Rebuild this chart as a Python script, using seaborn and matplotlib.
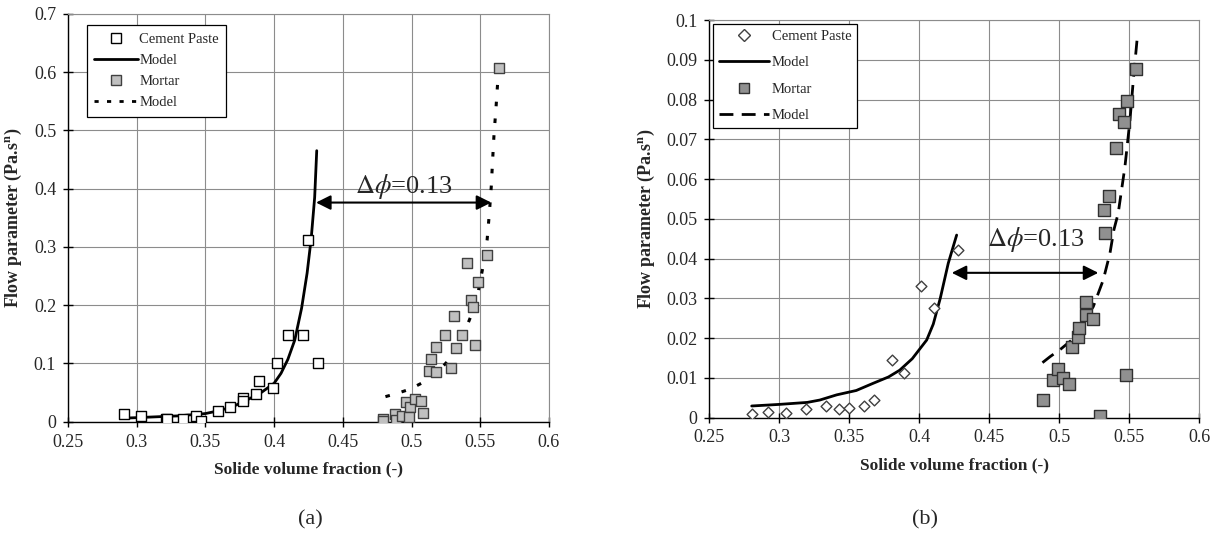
import matplotlib
matplotlib.use('Agg')
import matplotlib.pyplot as plt
import seaborn as sns
from matplotlib.ticker import FuncFormatter, MultipleLocator
from matplotlib.lines import Line2D

# ---------------- Panel (a) data ----------------
a_paste_x = [0.291, 0.303, 0.321, 0.322, 0.334, 0.343, 0.347, 0.359, 0.368, 0.377, 0.377,
             0.387, 0.389, 0.399, 0.402, 0.410, 0.421, 0.425, 0.432]
a_paste_y = [0.013, 0.010, 0.005, 0.005, 0.005, 0.009, 0.002, 0.019, 0.026, 0.041, 0.035,
             0.047, 0.070, 0.058, 0.100, 0.149, 0.149, 0.311, 0.100]
a_paste_model_x = [0.290, 0.300, 0.310, 0.320, 0.330, 0.340, 0.350, 0.360, 0.370, 0.380, 0.390,
                   0.400, 0.405, 0.410, 0.415, 0.420, 0.424, 0.427, 0.4295, 0.431]
a_paste_model_y = [0.006, 0.007, 0.008, 0.009, 0.010, 0.012, 0.014, 0.019, 0.026, 0.037, 0.049,
                   0.066, 0.083, 0.107, 0.140, 0.195, 0.255, 0.315, 0.385, 0.465]
a_mortar_x = [0.4795, 0.4795, 0.488, 0.489, 0.493, 0.496, 0.499, 0.498, 0.5025, 0.507, 0.508,
              0.513, 0.514, 0.518, 0.518, 0.524, 0.529, 0.531, 0.532, 0.537, 0.540, 0.5435,
              0.545, 0.546, 0.548, 0.555, 0.564]
a_mortar_y = [0.004, 0.001, 0.014, 0.003, 0.010, 0.033, 0.025, 0.008, 0.039, 0.035, 0.015,
              0.087, 0.108, 0.085, 0.128, 0.149, 0.093, 0.181, 0.126, 0.149, 0.273, 0.209,
              0.196, 0.132, 0.239, 0.286, 0.607]
a_mortar_model_x = [0.481, 0.490, 0.499, 0.508, 0.515, 0.522, 0.530, 0.537, 0.543, 0.5485, 0.552,
                    0.555, 0.5566, 0.558, 0.559, 0.560, 0.5615, 0.5627, 0.5635]
a_mortar_model_y = [0.043, 0.049, 0.056, 0.067, 0.078, 0.093, 0.113, 0.145, 0.180, 0.223, 0.266,
                    0.312, 0.357, 0.403, 0.449, 0.492, 0.540, 0.583, 0.600]

# ---------------- Panel (b) data ----------------
b_paste_x = [0.2803, 0.2917, 0.3046, 0.3189, 0.3334, 0.3429, 0.350, 0.3605, 0.368, 0.3803,
             0.3893, 0.4013, 0.4105, 0.4279]
b_paste_y = [0.0009, 0.0015, 0.0011, 0.0021, 0.0030, 0.0021, 0.0023, 0.0029, 0.0044, 0.0145,
             0.0111, 0.0331, 0.0275, 0.0421]
b_paste_model_x = [0.2803, 0.300, 0.320, 0.329, 0.341, 0.355, 0.367, 0.378, 0.386, 0.395,
                   0.4053, 0.410, 0.415, 0.4207, 0.4267]
b_paste_model_y = [0.0029, 0.0033, 0.0038, 0.0044, 0.0057, 0.0068, 0.0086, 0.0102, 0.0119, 0.0148,
                   0.0195, 0.0235, 0.0300, 0.0388, 0.0459]
b_mortar_x = [0.4881, 0.4957, 0.4993, 0.5029, 0.5071, 0.5089, 0.5131, 0.5143, 0.5189, 0.5191,
              0.5238, 0.529, 0.532, 0.5326, 0.5357, 0.5405, 0.5429, 0.5462, 0.5474, 0.5481, 0.5548]
b_mortar_y = [0.0045, 0.0094, 0.0121, 0.0099, 0.0084, 0.0178, 0.0202, 0.0224, 0.0258, 0.0291,
              0.0248, 0.0004, 0.0522, 0.0463, 0.0558, 0.0677, 0.0764, 0.0743, 0.0107, 0.0797, 0.0876]
b_mortar_model_x = [0.488, 0.4934, 0.5010, 0.5089, 0.517, 0.5243, 0.5314, 0.5362, 0.539, 0.5421,
                    0.5469, 0.5505, 0.5529, 0.5555]
b_mortar_model_y = [0.0138, 0.0153, 0.0172, 0.0195, 0.0237, 0.0279, 0.0346, 0.0413, 0.0472, 0.0514,
                    0.0631, 0.0748, 0.0849, 0.0948]

xlabel = 'Solide volume fraction (-)'
ylabel = r'Flow parameter (Pa.s$^{\mathbf{n}}$)'
delta_label = r'$\Delta\phi$=0.13'

sns.set_theme(style='white')
plt.rcParams['font.family'] = ['Liberation Serif', 'DejaVu Serif']
plt.rcParams['mathtext.fontset'] = 'stix'

fig = plt.figure(figsize=(12.21, 5.53), dpi=100)
axA = fig.add_axes([0.0557, 0.2374, 0.3939, 0.7378])
axB = fig.add_axes([0.5809, 0.245, 0.4013, 0.7188])

GRID = '#8c8c8c'
fmt = FuncFormatter(lambda v, p: '%g' % round(v, 4))


def style_axes(ax, ymax, ystep):
    ax.set_xlim(0.25, 0.6)
    ax.set_ylim(0, ymax)
    ax.xaxis.set_major_locator(MultipleLocator(0.05))
    ax.yaxis.set_major_locator(MultipleLocator(ystep))
    ax.xaxis.set_major_formatter(fmt)
    ax.yaxis.set_major_formatter(fmt)
    ax.grid(True, color=GRID, lw=0.8)
    ax.set_axisbelow(True)
    for s in ['top', 'right']:
        ax.spines[s].set_color(GRID)
        ax.spines[s].set_linewidth(0.8)
    for s in ['left', 'bottom']:
        ax.spines[s].set_color('black')
        ax.spines[s].set_linewidth(1.0)
    ax.tick_params(axis='both', direction='inout', length=7, width=1, color='black',
                   labelsize=13, pad=5, left=True, bottom=True)
    ax.set_xlabel(xlabel, fontsize=12.5, fontweight='bold', labelpad=8)
    ax.set_ylabel(ylabel, fontsize=13, fontweight='bold', labelpad=7)


# ---------- Panel (a) ----------
sns.scatterplot(x=a_paste_x, y=a_paste_y, ax=axA, marker='s', s=60, color='white',
                edgecolor='black', linewidth=1, zorder=4, legend=False)
sns.lineplot(x=a_paste_model_x, y=a_paste_model_y, ax=axA, color='black', lw=2,
             sort=False, estimator=None, zorder=3, legend=False)
sns.scatterplot(x=a_mortar_x, y=a_mortar_y, ax=axA, marker='s', s=60, color='#c0c0c0',
                edgecolor='#404040', linewidth=1, zorder=4, legend=False)
sns.lineplot(x=a_mortar_model_x, y=a_mortar_model_y, ax=axA, color='black', lw=2.2,
             linestyle=(0, (1.5, 4)), sort=False, estimator=None, zorder=3, legend=False)
style_axes(axA, 0.7, 0.1)

axA.annotate('', xy=(0.4305, 0.376), xytext=(0.558, 0.376),
             arrowprops=dict(arrowstyle='<|-|>', color='black', lw=1.5,
                             mutation_scale=22, shrinkA=0, shrinkB=0), zorder=5)
axA.text(0.459, 0.404, delta_label, fontsize=19, ha='left', va='center', zorder=5)

hA = [Line2D([], [], ls='none', marker='s', ms=7, mfc='white', mec='black', mew=1),
      Line2D([], [], color='black', lw=2),
      Line2D([], [], ls='none', marker='s', ms=7, mfc='#c0c0c0', mec='#404040', mew=1),
      Line2D([], [], color='black', lw=2, linestyle=(0, (1.5, 3)))]
legA = axA.legend(hA, ['Cement Paste', 'Model', 'Mortar', 'Model'], loc='upper left',
                  bbox_to_anchor=(0.039, 0.972), borderaxespad=0, fontsize=10.5,
                  frameon=True, fancybox=False, framealpha=1, edgecolor='black',
                  handlelength=3.0, handletextpad=0.1, labelspacing=0.55, borderpad=0.5)
legA.get_frame().set_linewidth(0.9)

# ---------- Panel (b) ----------
sns.scatterplot(x=b_paste_x, y=b_paste_y, ax=axB, marker='D', s=30, color='white',
                edgecolor='#404040', linewidth=1, zorder=4, legend=False)
sns.lineplot(x=b_paste_model_x, y=b_paste_model_y, ax=axB, color='black', lw=2,
             sort=False, estimator=None, zorder=3, legend=False)
sns.scatterplot(x=b_mortar_x, y=b_mortar_y, ax=axB, marker='s', s=65, color='#909090',
                edgecolor='#303030', linewidth=1, zorder=4, legend=False)
sns.lineplot(x=b_mortar_model_x, y=b_mortar_model_y, ax=axB, color='black', lw=2,
             linestyle=(0, (5, 3)), sort=False, estimator=None, zorder=3, legend=False)
style_axes(axB, 0.1, 0.01)

axB.annotate('', xy=(0.4232, 0.0364), xytext=(0.5279, 0.0364),
             arrowprops=dict(arrowstyle='<|-|>', color='black', lw=1.5,
                             mutation_scale=22, shrinkA=0, shrinkB=0), zorder=5)
axB.text(0.4481, 0.0447, delta_label, fontsize=19, ha='left', va='center', zorder=5)

hB = [Line2D([], [], ls='none', marker='D', ms=6, mfc='white', mec='#404040', mew=1),
      Line2D([], [], color='black', lw=2),
      Line2D([], [], ls='none', marker='s', ms=7, mfc='#909090', mec='#303030', mew=1),
      Line2D([], [], color='black', lw=2, linestyle=(0, (5, 3)))]
legB = axB.legend(hB, ['Cement Paste', 'Model', 'Mortar', 'Model'], loc='upper left',
                  bbox_to_anchor=(0.008, 0.99), borderaxespad=0, fontsize=10.5,
                  frameon=True, fancybox=False, framealpha=1, edgecolor='black',
                  handlelength=3.4, handletextpad=0.2, labelspacing=0.9, borderpad=0.4)
legB.get_frame().set_linewidth(0.9)

fig.text(310 / 1221, 1 - 520 / 553, '(a)', ha='center', va='center', fontsize=16)
fig.text(925 / 1221, 1 - 520 / 553, '(b)', ha='center', va='center', fontsize=16)

fig.savefig('out.png', dpi=100)
